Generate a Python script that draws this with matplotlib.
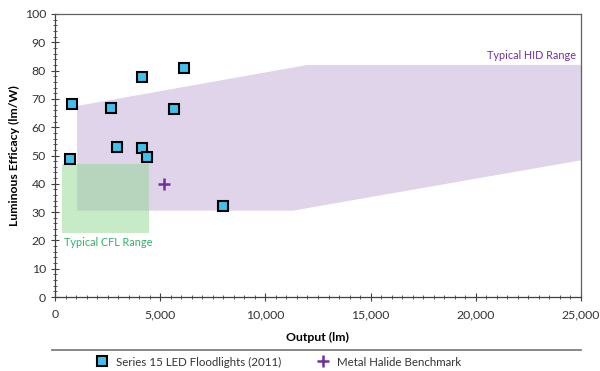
import matplotlib
matplotlib.use("Agg")
import matplotlib.pyplot as plt
from matplotlib.patches import Polygon, Rectangle
from matplotlib.lines import Line2D
from matplotlib.ticker import MultipleLocator, FuncFormatter

plt.rcParams['font.family'] = ['Lato', 'DejaVu Sans']

# LED floodlight data
led_output = [808, 713, 2662, 2947, 4135, 4135, 4373, 5656, 6131, 7985]
led_efficacy = [68.3, 48.8, 66.7, 53.0, 77.8, 52.8, 49.6, 66.3, 80.8, 32.3]

# Metal halide benchmark
mh_output = [5200]
mh_efficacy = [40]

# Typical HID range polygon (output, efficacy)
hid_x = [1050, 12000, 25000, 25000, 11300, 1050]
hid_y = [67.5, 82, 82, 48.3, 30.5, 30.5]

# Typical CFL range rectangle
cfl_x = [350, 4470]
cfl_y = [22.7, 47]

fig = plt.figure(figsize=(6, 3.71), dpi=100)
ax = fig.add_axes([55/600, 1-297/371, (581-55)/600, (297-14)/371])

ax.add_patch(Polygon(list(zip(hid_x, hid_y)), closed=True, facecolor='#dfd4ea',
                     edgecolor='none', zorder=1))
ax.add_patch(Rectangle((cfl_x[0], cfl_y[0]), cfl_x[1]-cfl_x[0], cfl_y[1]-cfl_y[0],
                       facecolor=(145/255, 215/255, 145/255), alpha=0.5,
                       edgecolor='none', zorder=2))

ax.plot(led_output, led_efficacy, linestyle='none', marker='s', markersize=7,
        markerfacecolor='#3fc0ef', markeredgecolor='black', markeredgewidth=1.5,
        zorder=4, label='Series 15 LED Floodlights (2011)')
ax.plot(mh_output, mh_efficacy, linestyle='none', marker='+', markersize=8.5,
        markeredgewidth=1.8, color='#7030a0', zorder=4,
        label='Metal Halide Benchmark')

ax.text(24750, 85.3, 'Typical HID Range', color='#7030a0', fontsize=7.8,
        ha='right', va='center')
ax.text(430, 19.2, 'Typical CFL Range', color='#2eb36a', fontsize=7.8,
        ha='left', va='center')

ax.set_xlim(0, 25000)
ax.set_ylim(0, 100)
ax.xaxis.set_major_locator(MultipleLocator(5000))
ax.xaxis.set_minor_locator(MultipleLocator(500))
ax.yaxis.set_major_locator(MultipleLocator(10))
ax.yaxis.set_minor_locator(MultipleLocator(2))
ax.xaxis.set_major_formatter(FuncFormatter(lambda v, p: f"{int(v):,}"))

ax.tick_params(which='major', direction='inout', length=6, width=0.8,
               colors='#404040', labelsize=8.8, labelcolor='#333333')
ax.tick_params(which='minor', direction='inout', length=3.5, width=0.6,
               colors='#404040')
ax.tick_params(axis='x', which='major', pad=6)

for s in ['left', 'bottom']:
    ax.spines[s].set_color('#404040')
    ax.spines[s].set_linewidth(0.9)
for s in ['top', 'right']:
    ax.spines[s].set_color('#606060')
    ax.spines[s].set_linewidth(0.9)

ax.set_xlabel('Output (lm)', fontsize=8.8, fontweight='bold', labelpad=8)
ax.set_ylabel('Luminous Efficacy (lm/W)', fontsize=8.8, fontweight='bold',
              labelpad=3)

# legend frame top line
fig.add_artist(Line2D([52/600, 581/600], [1-350/371, 1-350/371],
                      color='#808080', linewidth=1.3, transform=fig.transFigure))

handles, labels = ax.get_legend_handles_labels()
fig.legend(handles, labels, loc='center', bbox_to_anchor=(278/600, 9/371),
           ncol=2, frameon=False, fontsize=8.3, columnspacing=3.0,
           handletextpad=0.6, handlelength=1.2, labelcolor='#333333')

fig.savefig('out.png', dpi=100)
